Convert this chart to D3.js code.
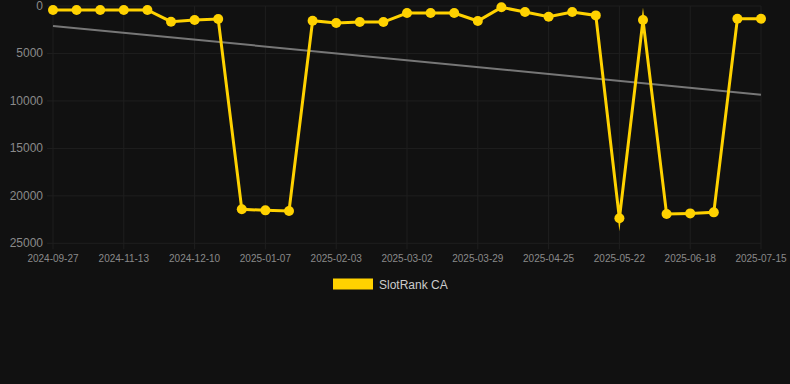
<!DOCTYPE html>
<html>
  <head>
    <meta charset="utf-8" />
    <title>SlotRank CA</title>
    <script src="https://d3js.org/d3.v7.min.js"></script>
    <style>
      body {
        margin: 0;
        background-color: #111111;
      }
      svg {
        display: block;
        background-color: #111111;
        font-family: "Liberation Sans", Arial, sans-serif;
      }
    </style>
  </head>
  <body>
    <svg width="790" height="384" id="chart"></svg>

    <script>
      // categories (dates), every third one is shown on the axis
      const dates = [
        "2024-09-27", "2024-10-13", "2024-10-29", "2024-11-13", "2024-11-22",
        "2024-12-01", "2024-12-10", "2024-12-19", "2024-12-28", "2025-01-07",
        "2025-01-16", "2025-01-25", "2025-02-03", "2025-02-12", "2025-02-21",
        "2025-03-02", "2025-03-11", "2025-03-20", "2025-03-29", "2025-04-07",
        "2025-04-16", "2025-04-25", "2025-05-04", "2025-05-13", "2025-05-22",
        "2025-05-31", "2025-06-09", "2025-06-18", "2025-06-27", "2025-07-06",
        "2025-07-15"
      ];

      // rank values
      const ranks = [
        420, 420, 420, 420, 420, 1650, 1480, 1370, 21420, 21530,
        21600, 1550, 1790, 1690, 1690, 740, 740, 740, 1580, 140,
        630, 1130, 630, 990, 22370, 1480, 21920, 21850, 21740, 1340,
        1340
      ];

      const yTicks = [0, 5000, 10000, 15000, 20000, 25000];
      const seriesName = "SlotRank CA";

      const gold = "#ffd200";
      const svg = d3.select("#chart");

      const x = d3.scalePoint()
        .domain(d3.range(dates.length))
        .range([53, 761]);

      const y = d3.scaleLinear()
        .domain([0, 25000])
        .range([6, 243.3]);

      // grid
      const grid = svg.append("g");
      grid.selectAll("line.h")
        .data(yTicks)
        .enter().append("line")
        .attr("x1", 47).attr("x2", 761)
        .attr("y1", d => y(d)).attr("y2", d => y(d))
        .attr("stroke", "#1f1f1f").attr("stroke-width", 1);

      const shown = d3.range(0, dates.length, 3);
      grid.selectAll("line.v")
        .data(shown)
        .enter().append("line")
        .attr("x1", d => x(d)).attr("x2", d => x(d))
        .attr("y1", y(0)).attr("y2", y(25000) + 6)
        .attr("stroke", "#1f1f1f").attr("stroke-width", 1);

      // y labels
      svg.append("g").selectAll("text")
        .data(yTicks)
        .enter().append("text")
        .attr("x", 43)
        .attr("y", d => y(d) + 4)
        .attr("text-anchor", "end")
        .attr("font-size", 12)
        .attr("fill", "#8a8a8a")
        .text(d => d);

      // x labels
      svg.append("g").selectAll("text")
        .data(shown)
        .enter().append("text")
        .attr("x", d => x(d))
        .attr("y", 262)
        .attr("text-anchor", "middle")
        .attr("font-size", 10)
        .attr("fill", "#8a8a8a")
        .text(d => dates[d]);

      // trend line (least squares fit of the series)
      const n = ranks.length;
      const mx = d3.mean(d3.range(n));
      const my = d3.mean(ranks);
      const slope = d3.sum(ranks, (v, i) => (i - mx) * (v - my)) /
        d3.sum(d3.range(n), i => (i - mx) * (i - mx));
      const icpt = my - slope * mx;

      svg.append("line")
        .attr("x1", x(0)).attr("y1", y(icpt))
        .attr("x2", x(n - 1)).attr("y2", y(icpt + slope * (n - 1)))
        .attr("stroke", "#777777")
        .attr("stroke-width", 2);

      // series line
      const line = d3.line()
        .x((d, i) => x(i))
        .y(d => y(d));

      svg.append("path")
        .datum(ranks)
        .attr("d", line)
        .attr("fill", "none")
        .attr("stroke", gold)
        .attr("stroke-width", 3)
        .attr("stroke-linejoin", "miter")
        .attr("stroke-miterlimit", 10);

      svg.append("g").selectAll("circle")
        .data(ranks)
        .enter().append("circle")
        .attr("cx", (d, i) => x(i))
        .attr("cy", d => y(d))
        .attr("r", 5)
        .attr("fill", gold);

      // legend
      const legend = svg.append("g");
      legend.append("rect")
        .attr("x", 333).attr("y", 278.5)
        .attr("width", 40).attr("height", 11)
        .attr("fill", gold);
      legend.append("text")
        .attr("x", 379).attr("y", 288.5)
        .attr("font-size", 12)
        .attr("fill", "#cccccc")
        .text(seriesName);
    </script>
  </body>
</html>
